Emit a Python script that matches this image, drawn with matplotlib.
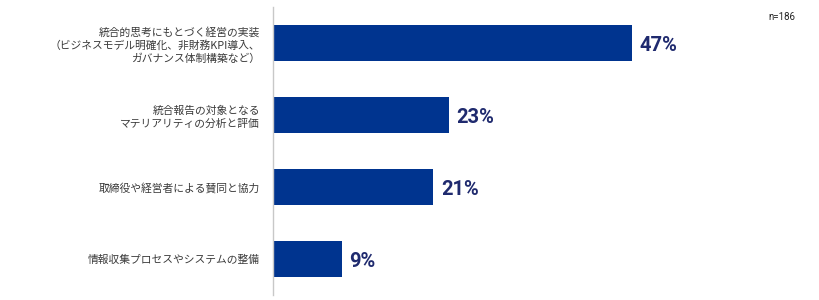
import matplotlib
matplotlib.use("Agg")
import matplotlib.pyplot as plt

plt.rcParams['font.family'] = ['Noto Sans CJK JP', 'DejaVu Sans']

categories = [
    "統合的思考にもとづく経営の実装\n（ビジネスモデル明確化、非財務KPI導入、\nガバナンス体制構築など）",
    "統合報告の対象となる\nマテリアリティの分析と評価",
    "取締役や経営者による賛同と協力",
    "情報収集プロセスやシステムの整備",
]
values = [47, 23, 21, 9]
value_labels = ["47%", "23%", "21%", "9%"]
sample_note = "n=186"

bar_color = "#00348F"
label_color = "#1F2A6E"

fig = plt.figure(figsize=(8.2, 3.0), dpi=100)
ax = fig.add_axes([273/820, 5/300, (808-273)/820, 288/300])

ypos = list(range(len(categories)))
ax.barh(ypos, values, height=0.5, color=bar_color)
ax.set_ylim(3.5, -0.5)
ax.set_xlim(0, 70)

for y, v, lab in zip(ypos, values, value_labels):
    ax.text(v + 1.0, y + 0.04, lab, va='center', ha='left', fontsize=14.5,
            fontweight='bold', color=label_color, family=['Roboto', 'DejaVu Sans'])

ax.set_yticks(ypos)
ax.set_yticklabels(categories, fontsize=7.75, color="#3a3a3a", linespacing=1.3,
                   ha='right')
ax.tick_params(axis='y', length=0, pad=9.5)
ax.set_xticks([])
for s in ['top', 'right', 'bottom']:
    ax.spines[s].set_visible(False)
ax.spines['left'].set_color("#C8C8C8")
ax.spines['left'].set_linewidth(1.0)

fig.text(795/820, 1 - 17/300, sample_note, ha='right', va='center', fontsize=7,
         color="#222222", family=['Roboto', 'DejaVu Sans'])

fig.savefig("out.png", dpi=100)
